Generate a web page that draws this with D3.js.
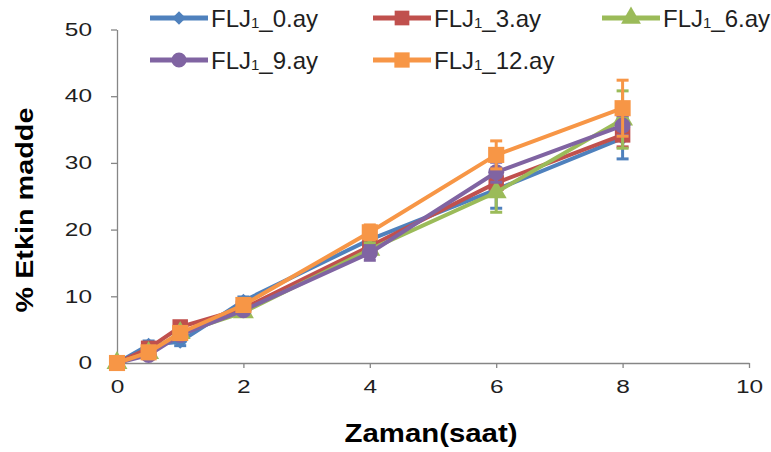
<!DOCTYPE html>
<html>
<head>
<meta charset="utf-8">
<script src="https://cdn.jsdelivr.net/npm/d3@7/dist/d3.min.js"></script>
<style>
  html, body { margin: 0; padding: 0; background: #ffffff; }
  svg { display: block; }
  text { font-family: "Liberation Sans", Arial, sans-serif; }
</style>
</head>
<body>
<svg id="chart" width="771" height="452"></svg>
<script>
// Sampling times (saat)
const times = [0, 0.5, 1, 2, 4, 6, 8];

// Series names: prefix, subscript digit, suffix
const seriesPrefix = ["FLJ", "FLJ", "FLJ", "FLJ", "FLJ"];
const seriesSub    = ["1", "1", "1", "1", "1"];
const seriesSuffix = ["_0.ay", "_3.ay", "_6.ay", "_9.ay", "_12.ay"];

// % active substance released per series
const flj0  = [0, 2.7, 3.2, 9.3, 18.5, 26.0, 33.7];
const flj3  = [0, 2.2, 5.4, 8.2, 17.5, 27.0, 34.2];
const flj6  = [0, 1.5, 4.5, 7.6, 17.0, 25.6, 36.5];
const flj9  = [0, 1.2, 4.2, 7.9, 16.5, 28.6, 35.6];
const flj12 = [0, 1.6, 4.5, 8.7, 19.6, 31.2, 38.2];

// Standard deviations (error bars)
const err0  = [0.3, 0.6, 0.6, 0.6, 1.0, 2.8, 3.1];
const err3  = [0.3, 0.6, 0.6, 0.6, 1.0, 1.5, 1.8];
const err6  = [0.3, 0.6, 0.6, 0.6, 1.0, 3.0, 4.3];
const err9  = [0.3, 0.6, 0.6, 0.6, 1.1, 1.5, 1.5];
const err12 = [0.3, 0.6, 0.6, 0.6, 1.1, 2.1, 4.2];

const xTicks = [0, 2, 4, 6, 8, 10];
const yTicks = [0, 10, 20, 30, 40, 50];

const colors  = ["#4F81BD", "#C0504D", "#9BBB59", "#8064A2", "#F79646"];
const symbols = [d3.symbolDiamond2, d3.symbolSquare, d3.symbolTriangle, d3.symbolCircle, d3.symbolSquare];

const seriesValues = [flj0, flj3, flj6, flj9, flj12];
const seriesErrors = [err0, err3, err6, err9, err12];

const series = seriesPrefix.map((pre, i) => ({
  pre, sub: seriesSub[i], suf: seriesSuffix[i],
  color: colors[i], symbol: symbols[i],
  points: times.map((t, j) => ({ t, v: seriesValues[i][j], e: seriesErrors[i][j] }))
}));

const svg = d3.select("#chart");

const x = d3.scaleLinear().domain([0, 10]).range([117, 749]);
const y = d3.scaleLinear().domain([0, 50]).range([363, 29.5]);

const axisColor = "#868686";
const textColor = "#1f1f1f";

// Axes
const xAxis = svg.append("g")
  .attr("transform", `translate(0,${y(0)})`)
  .call(d3.axisBottom(x).tickValues(xTicks).tickSize(5).tickSizeOuter(0).tickPadding(12).tickFormat(d3.format("d")));
const yAxis = svg.append("g")
  .attr("transform", `translate(${x(0)},0)`)
  .call(d3.axisLeft(y).tickValues(yTicks).tickSize(6).tickSizeOuter(0).tickPadding(19).tickFormat(d3.format("d")));

[xAxis, yAxis].forEach(g => {
  g.select(".domain").attr("stroke", axisColor).attr("stroke-width", 1.3);
  g.selectAll(".tick line").attr("stroke", axisColor).attr("stroke-width", 1.3);
  g.selectAll(".tick text")
    .attr("fill", textColor)
    .attr("font-size", 18)
    .attr("font-family", "Liberation Sans, Arial, sans-serif")
    .attr("lengthAdjust", "spacingAndGlyphs")
    .attr("textLength", function () { return this.textContent.length * 13.6; });
});
// the x-axis zero sits under the y-axis; no tick mark there
xAxis.selectAll(".tick line").filter(d => d === 0).remove();

// Axis titles
svg.append("text")
  .attr("x", 431).attr("y", 442)
  .attr("text-anchor", "middle")
  .attr("font-weight", "bold").attr("font-size", 26)
  .attr("fill", "#000")
  .attr("lengthAdjust", "spacingAndGlyphs").attr("textLength", 173)
  .text("Zaman(saat)");

svg.append("text")
  .attr("transform", "translate(33,210) rotate(-90)")
  .attr("text-anchor", "middle")
  .attr("font-weight", "bold").attr("font-size", 24)
  .attr("fill", "#000")
  .attr("lengthAdjust", "spacingAndGlyphs").attr("textLength", 205)
  .text("% Etkin madde");

const symbolSize = [130, 240, 190, 200, 260];

const line = d3.line().x(d => x(d.t)).y(d => y(d.v));

// Series: line, error bars, markers
series.forEach((s, i) => {
  const g = svg.append("g");
  g.append("path")
    .attr("d", line(s.points))
    .attr("fill", "none")
    .attr("stroke", s.color)
    .attr("stroke-width", 4)
    .attr("stroke-linejoin", "round");

  const eb = g.selectAll(".eb").data(s.points).join("g").attr("class", "eb");
  eb.append("line")
    .attr("x1", d => x(d.t)).attr("x2", d => x(d.t))
    .attr("y1", d => y(d.v - d.e)).attr("y2", d => y(d.v + d.e))
    .attr("stroke", s.color).attr("stroke-width", 3);
  eb.append("line")
    .attr("x1", d => x(d.t) - 6).attr("x2", d => x(d.t) + 6)
    .attr("y1", d => y(d.v + d.e)).attr("y2", d => y(d.v + d.e))
    .attr("stroke", s.color).attr("stroke-width", 3);
  eb.append("line")
    .attr("x1", d => x(d.t) - 6).attr("x2", d => x(d.t) + 6)
    .attr("y1", d => y(d.v - d.e)).attr("y2", d => y(d.v - d.e))
    .attr("stroke", s.color).attr("stroke-width", 3);

  g.selectAll(".mk").data(s.points).join("path")
    .attr("class", "mk")
    .attr("transform", d => `translate(${x(d.t)},${y(d.v)})`)
    .attr("d", d3.symbol().type(s.symbol).size(symbolSize[i]))
    .attr("fill", s.color);
});

// Legend: two rows, marker on a short line, label with subscript digit
const legendPos = [
  { lx: 150, ly: 18 }, { lx: 373, ly: 18 }, { lx: 602, ly: 18 },
  { lx: 150, ly: 60 }, { lx: 373, ly: 60 }
];

series.forEach((s, i) => {
  const p = legendPos[i];
  const lg = svg.append("g").attr("transform", `translate(${p.lx},${p.ly})`);
  lg.append("line")
    .attr("x1", 0).attr("x2", 58).attr("y1", 0).attr("y2", 0)
    .attr("stroke", s.color).attr("stroke-width", 5);
  lg.append("path")
    .attr("transform", "translate(29,0)")
    .attr("d", d3.symbol().type(s.symbol).size(symbolSize[i] * 0.9))
    .attr("fill", s.color);

  let cx = 61;
  const pre = lg.append("text")
    .attr("x", cx).attr("y", 8.5)
    .attr("font-size", 24).attr("fill", textColor)
    .text(s.pre);
  cx += pre.node().getComputedTextLength();
  const sub = lg.append("text")
    .attr("x", cx).attr("y", 9.5)
    .attr("font-size", 15).attr("fill", textColor)
    .text(s.sub);
  cx += sub.node().getComputedTextLength();
  lg.append("text")
    .attr("x", cx).attr("y", 8.5)
    .attr("font-size", 24).attr("fill", textColor)
    .text(s.suf);
});
</script>
</body>
</html>
